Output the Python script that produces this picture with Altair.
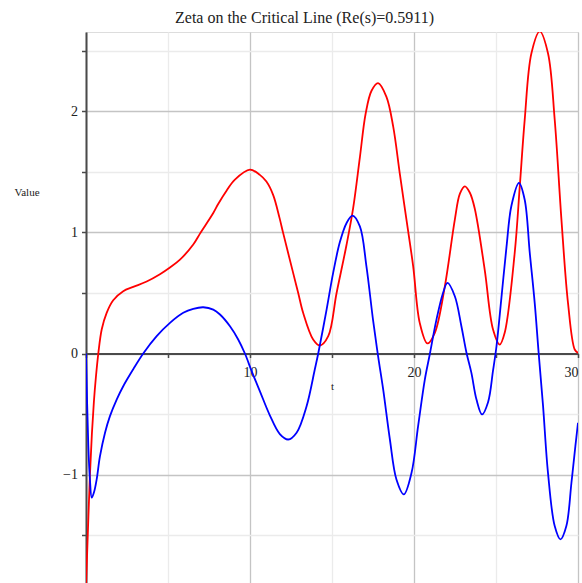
import altair as alt
import pandas as pd

TITLE = "Zeta on the Critical Line (Re(s)=0.5911)"

# Real part (red)
T_RE = [0.0, 0.12, 0.24, 0.36, 0.48, 0.6, 0.75, 0.96, 1.26, 1.66, 2.27, 2.88, 3.7, 4.51,
        5.12, 5.73, 6.54, 6.95, 7.76, 8.06, 8.57, 9.08, 10.0, 10.6, 11.0, 11.41, 11.8,
        12.02, 12.63, 12.94, 13.24, 13.85, 14.26, 14.77, 15.28, 15.89, 16.29, 16.7,
        17.05, 17.41, 17.81, 18.32, 18.73, 19.13, 19.54, 19.95, 20.35, 20.82, 21.27,
        21.88, 22.49, 22.8, 23.1, 23.4, 23.7, 24.31, 24.82, 25.23, 25.53, 26.14, 26.45,
        26.75, 27.16, 27.67, 28.17, 28.58, 28.99, 29.39, 29.8, 30.0]
V_RE = [-1.93, -1.45, -1.0, -0.66, -0.4, -0.2, 0.0, 0.2, 0.336, 0.44, 0.515, 0.55,
        0.595, 0.655, 0.71, 0.775, 0.9, 0.99, 1.16, 1.235, 1.345, 1.436, 1.518,
        1.475, 1.42, 1.31, 1.12, 0.996, 0.666, 0.5, 0.336, 0.116, 0.066, 0.143, 0.5,
        0.9, 1.2, 1.62, 1.98, 2.17, 2.233, 2.12, 1.875, 1.49, 1.105, 0.72, 0.253,
        0.083, 0.171, 0.555, 1.106, 1.32, 1.38, 1.33, 1.2, 0.693, 0.198, 0.074, 0.171,
        0.83, 1.38, 1.93, 2.48, 2.66, 2.48, 1.93, 1.106, 0.418, 0.033, 0.005]

# Imaginary part (blue)
T_IM = [0.0, 0.14, 0.24, 0.35, 0.5, 0.65, 0.85, 1.16, 1.46, 1.87, 2.27, 2.88, 3.49,
        4.31, 5.12, 5.93, 6.54, 7.15, 7.76, 8.17, 8.78, 9.28, 9.69, 10.1, 10.6,
        11.21, 11.82, 12.33, 12.84, 13.45, 13.95, 14.16, 14.67, 15.07, 15.48, 15.89,
        16.25, 16.7, 17.1, 17.5, 17.81, 18.12, 18.53, 18.93, 19.38, 19.85, 20.25,
        20.66, 20.96, 21.37, 21.77, 22.04, 22.49, 22.89, 23.2, 23.5, 23.81, 24.15,
        24.52, 24.82, 25.03, 25.33, 25.64, 25.94, 26.4, 26.75, 27.06, 27.36, 27.6,
        27.87, 28.17, 28.58, 28.93, 29.29, 29.6, 29.84, 30.0]
V_IM = [0.0, -0.76, -1.04, -1.19, -1.14, -1.04, -0.85, -0.654, -0.517, -0.38, -0.27,
        -0.13, 0.0, 0.143, 0.253, 0.336, 0.369, 0.382, 0.363, 0.322, 0.225, 0.116,
        0.0, -0.145, -0.31, -0.51, -0.665, -0.71, -0.654, -0.435, -0.132, 0.0,
        0.363, 0.666, 0.92, 1.078, 1.139, 1.05, 0.72, 0.28, -0.022, -0.297, -0.71,
        -1.04, -1.163, -0.985, -0.6, -0.215, -0.008, 0.28, 0.5, 0.583, 0.473, 0.225,
        0.006, -0.16, -0.38, -0.503, -0.4, -0.14, 0.06, 0.46, 0.88, 1.22,
        1.408, 1.27, 0.83, 0.418, 0.006, -0.435, -0.985, -1.425, -1.535, -1.425,
        -1.067, -0.765, -0.572]

X_TICKS = [0, 5, 10, 15, 20, 25, 30]
Y_TICKS = [-1.5, -1, -0.5, 0, 0.5, 1, 1.5, 2, 2.5]
X_DOMAIN = [0, 30]
Y_DOMAIN = [-1.895, 2.655]

W, H = 492, 551
SERIF = "Liberation Serif"
AXIS_COLOR = "#4a4a4a"
MAJOR_GRID = "#c4c4c4"
MINOR_GRID = "#ebebeb"

df = pd.concat([
    pd.DataFrame({"t": T_RE, "value": V_RE, "part": "Re"}),
    pd.DataFrame({"t": T_IM, "value": V_IM, "part": "Im"}),
], ignore_index=True)

x_axis = alt.Axis(
    values=X_TICKS,
    format="~g",
    labelExpr="datum.value % 10 == 0 && datum.value != 0 ? datum.label : ''",
    grid=True,
    gridColor={"condition": {"test": "datum.value % 10 == 0", "value": MAJOR_GRID},
               "value": MINOR_GRID},
    gridWidth=1.3,
    offset=-229.5,
    domainColor=AXIS_COLOR,
    domainWidth=2,
    tickColor=AXIS_COLOR,
    tickWidth=1.5,
    tickSize=4,
    labelPadding=8,
    labelFont=SERIF,
    labelFontSize=14,
    labelColor="#222222",
    title="t",
    titleFont=SERIF,
    titleFontSize=11,
    titleFontWeight="normal",
    titleColor="#222222",
    titleBaseline="middle",
    titleY=33,
)

y_axis = alt.Axis(
    values=Y_TICKS,
    format="~g",
    labelExpr="datum.value % 1 == 0 ? datum.label : ''",
    grid=True,
    gridColor={"condition": {"test": "datum.value % 1 == 0", "value": MAJOR_GRID},
               "value": MINOR_GRID},
    gridWidth=1.3,
    domainColor=AXIS_COLOR,
    domainWidth=2,
    tickColor=AXIS_COLOR,
    tickWidth=1.5,
    tickSize=4.5,
    labelPadding=4,
    labelFont=SERIF,
    labelFontSize=14,
    labelColor="#222222",
    title="Value",
    titleAngle=0,
    titleFont=SERIF,
    titleFontSize=11,
    titleFontWeight="normal",
    titleColor="#222222",
    titleAlign="left",
    titleBaseline="middle",
    titleX=-72,
    titleY=160,
)

chart = alt.Chart(df).mark_line(clip=True, strokeWidth=1.8, interpolate="catmull-rom").encode(
    x=alt.X("t:Q", scale=alt.Scale(domain=X_DOMAIN, nice=False, zero=False), axis=x_axis),
    y=alt.Y("value:Q", scale=alt.Scale(domain=Y_DOMAIN, nice=False, zero=False), axis=y_axis),
    color=alt.Color("part:N", scale=alt.Scale(domain=["Re", "Im"], range=["#ff0000", "#0000ff"]),
                    legend=None),
    detail="part:N",
).properties(
    width=W,
    height=H,
    title=alt.TitleParams(TITLE, anchor="start", dx=161, offset=6, font=SERIF, fontSize=16,
                          fontWeight="normal", color="#222222"),
    autosize=alt.AutoSizeParams(type="none"),
    padding={"left": 86, "top": 32, "right": 4, "bottom": 0},
).configure_view(stroke=None).configure(background="white")

chart.save("out.html", embed_options={"renderer": "svg", "actions": False})
